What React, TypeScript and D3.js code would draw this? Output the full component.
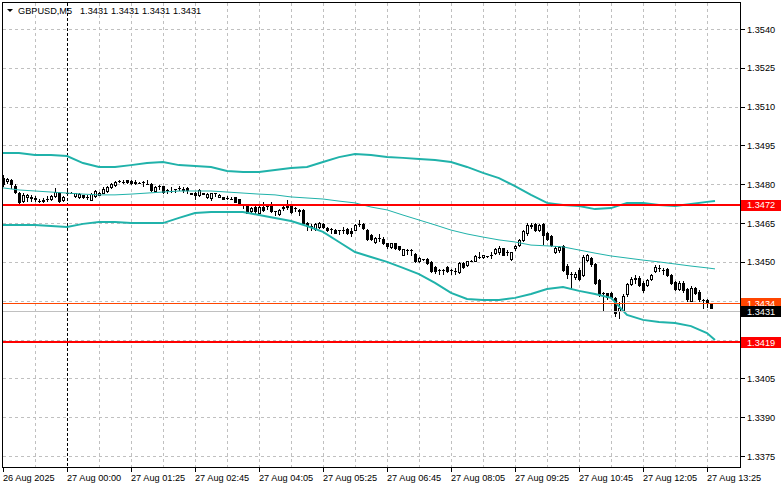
import React from 'react';
import * as d3 from 'd3';

const W = 781;
const H = 489;

const priceTicks = [1.354, 1.3525, 1.351, 1.3495, 1.348, 1.3465, 1.345, 1.3435, 1.342, 1.3405, 1.339, 1.3375];
const timeLabels = ['26 Aug 2025', '27 Aug 00:00', '27 Aug 01:25', '27 Aug 02:45', '27 Aug 04:05', '27 Aug 05:25', '27 Aug 06:45', '27 Aug 08:05', '27 Aug 09:25', '27 Aug 10:45', '27 Aug 12:05', '27 Aug 13:25'];
const timeLabelIdx = [0, 16, 32, 48, 64, 80, 96, 112, 128, 144, 160, 176];
const separatorIdx = 16;

// OHLC per M5 bar
const candles: [number, number, number, number][] = [
  [1.34826,1.34835,1.34795,1.34802],[1.34812,1.34825,1.34805,1.34820],[1.34815,1.34820,1.34785,1.34800],[1.34795,1.34800,1.34765,1.34770],
  [1.34768,1.34772,1.34728,1.34732],[1.34735,1.34765,1.34730,1.34758],[1.34752,1.34762,1.34735,1.34760],[1.34748,1.34758,1.34735,1.34750],
  [1.34745,1.34755,1.34735,1.34747],[1.34735,1.34745,1.34730,1.34735],[1.34738,1.34748,1.34732,1.34736],[1.34742,1.34755,1.34735,1.34745],
  [1.34742,1.34758,1.34738,1.34755],[1.34755,1.34785,1.34752,1.34770],[1.34768,1.34772,1.34730,1.34735],[1.34740,1.34756,1.34735,1.34752],
  [1.34765,1.34775,1.34760,1.34765],[1.34768,1.34770,1.34765,1.34767],[1.34755,1.34768,1.34750,1.34765],[1.34752,1.34766,1.34748,1.34762],
  [1.34758,1.34760,1.34748,1.34752],[1.34752,1.34760,1.34745,1.34752],[1.34740,1.34765,1.34738,1.34762],[1.34755,1.34778,1.34752,1.34775],
  [1.34760,1.34770,1.34758,1.34768],[1.34768,1.34790,1.34765,1.34782],[1.34775,1.34795,1.34772,1.34790],[1.34788,1.34805,1.34785,1.34800],
  [1.34796,1.34812,1.34792,1.34808],[1.34812,1.34815,1.34810,1.34813],[1.34808,1.34815,1.34805,1.34808],[1.34815,1.34818,1.34805,1.34808],
  [1.34812,1.34815,1.34802,1.34805],[1.34810,1.34818,1.34800,1.34806],[1.34806,1.34808,1.34804,1.34806],[1.34810,1.34812,1.34795,1.34810],
  [1.34802,1.34815,1.34800,1.34802],[1.34800,1.34805,1.34775,1.34778],[1.34775,1.34795,1.34772,1.34790],[1.34795,1.34798,1.34780,1.34795],
  [1.34792,1.34795,1.34768,1.34770],[1.34778,1.34780,1.34765,1.34778],[1.34775,1.34788,1.34772,1.34775],[1.34780,1.34782,1.34770,1.34780],
  [1.34785,1.34795,1.34778,1.34786],[1.34780,1.34790,1.34770,1.34778],[1.34785,1.34788,1.34768,1.34776],[1.34765,1.34767,1.34762,1.34764],
  [1.34768,1.34770,1.34745,1.34758],[1.34760,1.34782,1.34756,1.34778],[1.34765,1.34767,1.34762,1.34764],[1.34750,1.34766,1.34748,1.34764],
  [1.34748,1.34766,1.34740,1.34765],[1.34765,1.34768,1.34755,1.34765],[1.34752,1.34762,1.34750,1.34760],[1.34750,1.34752,1.34742,1.34745],
  [1.34748,1.34755,1.34742,1.34748],[1.34745,1.34752,1.34743,1.34745],[1.34750,1.34752,1.34730,1.34732],[1.34742,1.34745,1.34725,1.34728],
  [1.34720,1.34725,1.34708,1.34720],[1.34720,1.34722,1.34688,1.34690],[1.34695,1.34712,1.34692,1.34710],[1.34712,1.34716,1.34685,1.34695],
  [1.34690,1.34718,1.34688,1.34712],[1.34712,1.34730,1.34698,1.34700],[1.34715,1.34725,1.34705,1.34716],[1.34718,1.34730,1.34693,1.34696],
  [1.34695,1.34698,1.34682,1.34695],[1.34685,1.34703,1.34682,1.34700],[1.34710,1.34715,1.34700,1.34712],[1.34712,1.34738,1.34705,1.34716],
  [1.34716,1.34720,1.34688,1.34692],[1.34708,1.34712,1.34695,1.34708],[1.34700,1.34705,1.34682,1.34698],[1.34700,1.34705,1.34648,1.34652],
  [1.34652,1.34655,1.34625,1.34640],[1.34640,1.34645,1.34622,1.34640],[1.34628,1.34650,1.34625,1.34645],[1.34635,1.34655,1.34632,1.34652],
  [1.34648,1.34652,1.34632,1.34636],[1.34632,1.34635,1.34618,1.34622],[1.34628,1.34632,1.34610,1.34628],[1.34625,1.34628,1.34610,1.34612],
  [1.34622,1.34625,1.34608,1.34622],[1.34622,1.34635,1.34612,1.34625],[1.34628,1.34632,1.34608,1.34612],[1.34620,1.34632,1.34600,1.34610],
  [1.34625,1.34648,1.34622,1.34642],[1.34645,1.34662,1.34638,1.34648],[1.34645,1.34652,1.34628,1.34632],[1.34625,1.34628,1.34585,1.34590],
  [1.34605,1.34608,1.34585,1.34590],[1.34578,1.34595,1.34575,1.34592],[1.34592,1.34608,1.34580,1.34594],[1.34590,1.34595,1.34568,1.34572],
  [1.34572,1.34575,1.34555,1.34560],[1.34558,1.34575,1.34555,1.34572],[1.34572,1.34575,1.34550,1.34555],[1.34560,1.34562,1.34545,1.34548],
  [1.34528,1.34550,1.34525,1.34548],[1.34545,1.34548,1.34530,1.34545],[1.34545,1.34548,1.34528,1.34545],[1.34530,1.34535,1.34500,1.34502],
  [1.34502,1.34518,1.34498,1.34515],[1.34510,1.34512,1.34508,1.34510],[1.34512,1.34515,1.34490,1.34495],[1.34500,1.34505,1.34460,1.34465],
  [1.34482,1.34485,1.34458,1.34465],[1.34470,1.34472,1.34455,1.34470],[1.34468,1.34472,1.34452,1.34468],[1.34480,1.34485,1.34460,1.34465],
  [1.34470,1.34472,1.34455,1.34470],[1.34465,1.34475,1.34455,1.34466],[1.34462,1.34498,1.34458,1.34495],[1.34495,1.34500,1.34478,1.34482],
  [1.34488,1.34505,1.34485,1.34502],[1.34505,1.34508,1.34503,1.34505],[1.34505,1.34525,1.34502,1.34522],[1.34520,1.34540,1.34515,1.34520],
  [1.34518,1.34528,1.34515,1.34525],[1.34522,1.34524,1.34520,1.34522],[1.34525,1.34540,1.34515,1.34528],[1.34535,1.34552,1.34532,1.34550],
  [1.34540,1.34562,1.34530,1.34552],[1.34552,1.34555,1.34525,1.34528],[1.34540,1.34545,1.34528,1.34540],[1.34510,1.34540,1.34508,1.34538],
  [1.34555,1.34565,1.34545,1.34560],[1.34565,1.34588,1.34560,1.34585],[1.34585,1.34625,1.34580,1.34620],[1.34610,1.34650,1.34605,1.34642],
  [1.34640,1.34652,1.34630,1.34642],[1.34645,1.34650,1.34618,1.34622],[1.34625,1.34648,1.34620,1.34642],[1.34648,1.34652,1.34570,1.34605],
  [1.34610,1.34615,1.34585,1.34590],[1.34602,1.34605,1.34560,1.34565],[1.34538,1.34560,1.34535,1.34555],[1.34545,1.34562,1.34540,1.34558],
  [1.34560,1.34565,1.34465,1.34470],[1.34485,1.34490,1.34438,1.34455],[1.34455,1.34460,1.34400,1.34455],[1.34440,1.34460,1.34435,1.34455],
  [1.34470,1.34475,1.34430,1.34435],[1.34448,1.34525,1.34445,1.34520],[1.34508,1.34530,1.34505,1.34525],[1.34515,1.34520,1.34485,1.34490],
  [1.34490,1.34495,1.34415,1.34420],[1.34430,1.34435,1.34370,1.34375],[1.34380,1.34385,1.34310,1.34380],[1.34378,1.34380,1.34355,1.34365],
  [1.34378,1.34385,1.34360,1.34365],[1.34362,1.34365,1.34290,1.34302],[1.34310,1.34345,1.34285,1.34320],[1.34315,1.34375,1.34312,1.34370],
  [1.34375,1.34420,1.34370,1.34415],[1.34415,1.34440,1.34410,1.34435],[1.34435,1.34450,1.34420,1.34438],[1.34438,1.34445,1.34408,1.34412],
  [1.34420,1.34425,1.34385,1.34392],[1.34412,1.34435,1.34405,1.34430],[1.34435,1.34455,1.34430,1.34450],[1.34465,1.34488,1.34460,1.34482],
  [1.34475,1.34488,1.34465,1.34476],[1.34470,1.34475,1.34455,1.34470],[1.34472,1.34478,1.34445,1.34448],[1.34450,1.34455,1.34415,1.34420],
  [1.34422,1.34425,1.34390,1.34395],[1.34395,1.34425,1.34390,1.34420],[1.34420,1.34425,1.34385,1.34392],[1.34395,1.34400,1.34350,1.34355],
  [1.34350,1.34405,1.34348,1.34400],[1.34398,1.34402,1.34375,1.34380],[1.34385,1.34390,1.34350,1.34355],[1.34352,1.34355,1.34322,1.34352],
  [1.34352,1.34355,1.34325,1.34345],[1.34340,1.34342,1.34320,1.34322],[1.34310,1.34310,1.34310,1.34310],
];

// Bollinger bands, sampled at these bar indices
const bandIdx = [0,4,8,12,16,20,24,28,32,36,40,44,48,52,56,60,64,68,72,76,80,84,88,92,96,100,104,108,112,116,120,124,128,132,136,140,144,148,152,156,160,164,168,172,176,178];
const upperBand = [1.34921,1.34921,1.34913,1.34913,1.34909,1.34882,1.34867,1.34867,1.34874,1.34882,1.34886,1.34874,1.34871,1.34867,1.34851,1.34847,1.34847,1.34855,1.34863,1.34867,1.34886,1.34905,1.34917,1.34913,1.34905,1.34902,1.34898,1.34894,1.34886,1.34867,1.34844,1.34824,1.34793,1.34759,1.34728,1.34720,1.34716,1.34704,1.34708,1.34728,1.34728,1.34720,1.34716,1.34724,1.34732,1.34735];
const middleBand = [1.34786,1.34778,1.34774,1.34770,1.34766,1.34762,1.34759,1.34759,1.34762,1.34766,1.34770,1.34774,1.34774,1.34774,1.34770,1.34766,1.34762,1.34759,1.34751,1.34747,1.34743,1.34735,1.34728,1.34712,1.34701,1.34681,1.34662,1.34643,1.34623,1.34608,1.34596,1.34585,1.34577,1.34565,1.34562,1.34558,1.34546,1.34534,1.34523,1.34515,1.34507,1.34500,1.34492,1.34484,1.34477,1.34473];
const lowerBand = [1.34643,1.34643,1.34643,1.34639,1.34635,1.34647,1.34654,1.34654,1.34650,1.34650,1.34650,1.34670,1.34689,1.34693,1.34693,1.34693,1.34681,1.34670,1.34658,1.34639,1.34616,1.34577,1.34538,1.34519,1.34500,1.34477,1.34453,1.34419,1.34380,1.34357,1.34353,1.34353,1.34361,1.34376,1.34395,1.34403,1.34388,1.34376,1.34361,1.34295,1.34276,1.34268,1.34264,1.34252,1.34225,1.34198];

const levelLines = [1.3472, 1.3419];
const askPrice = 1.3434;
const bidPrice = 1.3431;
const titleSymbol = 'GBPUSD,M5';
const titleValues = ['1.3431', '1.3431', '1.3431', '1.3431'];

const FONT = '"Liberation Sans", Arial, sans-serif';
const FS = 9.2;

export default function App() {
  const plotL = 2.5, plotR = 740.5, plotT = 2.5, plotB = 467.5;
  const x = d3.scaleLinear().domain([0, 178]).range([3, 715]);
  const y = d3.scaleLinear().domain([1.3375, 1.354]).range([456, 29]);
  const band = (vals: number[]) =>
    d3.line<number>().x((_, k) => x(bandIdx[k])).y((d) => y(d))(vals) || '';
  const gridV: number[] = d3.range(8, 177, 8).filter((i) => i !== separatorIdx);
  const py = (v: number) => Math.round(y(v)) + 0.5;
  const tagPrices = [levelLines[0], levelLines[1], askPrice, bidPrice];
  const visibleTicks = priceTicks.filter((p) => tagPrices.every((t) => Math.abs(y(p) - y(t)) > 8));

  return (
    <svg width={W} height={H} style={{ position: 'absolute', left: 0, top: 0, background: '#fff' }} fontFamily={FONT} fontSize={FS}>
      <rect x={0} y={0} width={W} height={H} fill="#fff" />
      {/* grid */}
      <g stroke="#c0c0c0" strokeDasharray="3,3" shapeRendering="crispEdges">
        {priceTicks.map((p) => (
          <line key={'h' + p} x1={plotL} x2={plotR} y1={py(p)} y2={py(p)} />
        ))}
        {gridV.map((i) => (
          <line key={'v' + i} x1={Math.round(x(i)) + 0.5} x2={Math.round(x(i)) + 0.5} y1={plotT} y2={plotB} />
        ))}
      </g>
      <line x1={Math.round(x(separatorIdx)) + 0.5} x2={Math.round(x(separatorIdx)) + 0.5} y1={plotT} y2={plotB} stroke="#000" strokeDasharray="3,2" shapeRendering="crispEdges" />

      {/* candles */}
      <g shapeRendering="crispEdges">
        {candles.map(([o, h, l, c], i) => {
          const cx = Math.round(x(i));
          const yh = Math.round(y(h));
          const yl = Math.round(y(l));
          const yt = Math.round(y(Math.max(o, c)));
          const yb = Math.round(y(Math.min(o, c)));
          const els: React.ReactNode[] = [];
          els.push(<rect key="w" x={cx} y={yh} width={1} height={Math.max(1, yl - yh + 1)} fill="#000" />);
          if (c < o || yb - yt < 2) {
            els.push(<rect key="b" x={cx - 1} y={yt} width={3} height={Math.max(1, yb - yt + 1)} fill="#000" />);
          } else {
            els.push(<rect key="b" x={cx - 0.5} y={yt + 0.5} width={2} height={yb - yt} fill="#fff" stroke="#000" />);
          }
          return <g key={i}>{els}</g>;
        })}
      </g>

      {/* bollinger bands */}
      <g fill="none" stroke="#20B2AA">
        <path d={band(upperBand)} strokeWidth={2} />
        <path d={band(lowerBand)} strokeWidth={2} />
        <path d={band(middleBand)} strokeWidth={1} />
      </g>

      {/* horizontal lines */}
      <g shapeRendering="crispEdges">
        <line x1={plotL} x2={plotR} y1={py(bidPrice)} y2={py(bidPrice)} stroke="#c0c0c0" />
        <line x1={plotL} x2={plotR} y1={py(askPrice)} y2={py(askPrice)} stroke="#FF4500" />
        {levelLines.map((p) => (
          <line key={'lv' + p} x1={plotL} x2={plotR} y1={Math.round(y(p))} y2={Math.round(y(p))} stroke="#FF0000" strokeWidth={2} />
        ))}
      </g>

      {/* frame */}
      <rect x={plotL} y={plotT} width={plotR - plotL} height={plotB - plotT} fill="none" stroke="#000" shapeRendering="crispEdges" />

      {/* right axis */}
      <g>
        {priceTicks.map((p) => (
          <line key={'tk' + p} x1={plotR} x2={plotR + 4} y1={py(p)} y2={py(p)} stroke="#000" shapeRendering="crispEdges" />
        ))}
        {visibleTicks.map((p) => (
          <text key={'t' + p} x={747} y={y(p) + 3.5} fill="#000">{p.toFixed(4)}</text>
        ))}
      </g>

      {/* price tags */}
      {[
        { p: levelLines[0], fill: '#FF0000' },
        { p: levelLines[1], fill: '#FF0000' },
        { p: askPrice, fill: '#FF4500' },
        { p: bidPrice, fill: '#000000' },
      ].map(({ p, fill }) => (
        <g key={'tag' + p}>
          <rect x={741} y={Math.round(y(p)) - 5} width={40} height={11} fill={fill} shapeRendering="crispEdges" />
          <text x={747} y={y(p) + 3.5} fill="#fff">{p.toFixed(4)}</text>
        </g>
      ))}

      {/* bottom axis */}
      <g>
        {timeLabelIdx.map((i, k) => (
          <g key={'x' + i}>
            <line x1={Math.round(x(i)) + 0.5} x2={Math.round(x(i)) + 0.5} y1={plotB} y2={plotB + 4} stroke="#000" shapeRendering="crispEdges" />
            <text x={Math.round(x(i))} y={480.5} fill="#000">{timeLabels[k]}</text>
          </g>
        ))}
      </g>

      {/* title */}
      <path d="M7,9 L13,9 L10,12 Z" fill="#000" />
      <text x={18} y={14} fill="#000">{titleSymbol}</text>
      {titleValues.map((v, k) => (
        <text key={'tv' + k} x={80 + k * 31} y={14} fill="#000">{v}</text>
      ))}
    </svg>
  );
}
